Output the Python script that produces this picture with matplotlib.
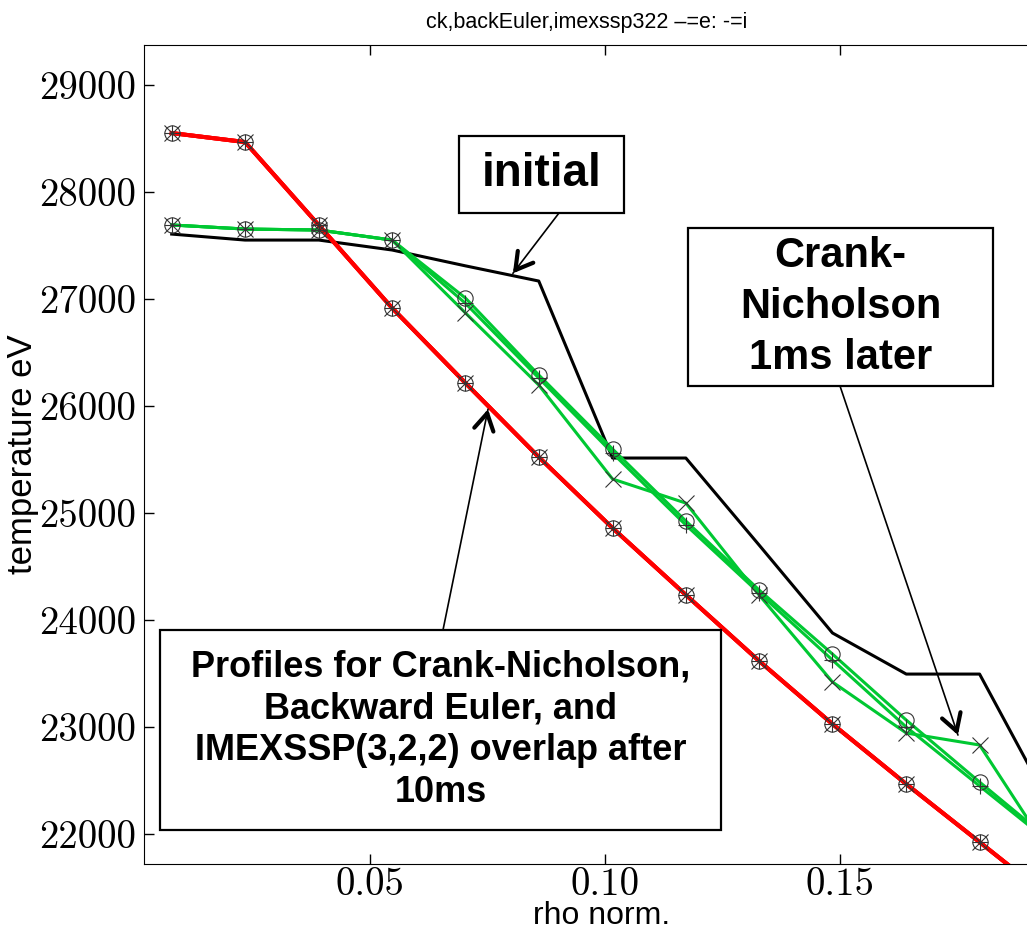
import numpy as np
import matplotlib
matplotlib.use('Agg')
import matplotlib.pyplot as plt
from matplotlib.patches import Rectangle

# radial grid (cell centres) and temperature profiles in eV
rho = [0.0078, 0.0234, 0.0391, 0.0547, 0.0703, 0.0859, 0.1016,
       0.1172, 0.1328, 0.1484, 0.1641, 0.1797, 0.1953]

t_initial = [27607, 27551, 27551, 27458, 27310, 27168, 25514,
             25514, 24700, 23879, 23495, 23495, 22224]

# 1ms after start
t_cn_1ms = [27692, 27654, 27645, 27551, 26870, 26196, 25318,
            25093, 24233, 23421, 22944, 22832, 21780]
t_be_1ms = [27692, 27654, 27645, 27551, 27009, 26290, 25598,
            24925, 24280, 23682, 23065, 22486, 21920]
t_imex_1ms = [27692, 27654, 27645, 27551, 26960, 26262, 25560,
              24888, 24252, 23626, 23000, 22449, 21900]

# 10ms: all three schemes land on the same profile
t_10ms = [28551, 28467, 27690, 26916, 26215, 25523, 24860,
          24235, 23617, 23028, 22467, 21925, 21380]

xticks = [0.05, 0.10, 0.15]
xtick_labels = ['0.05', '0.10', '0.15']
yticks = [22000, 23000, 24000, 25000, 26000, 27000, 28000, 29000]
ytick_labels = ['22000', '23000', '24000', '25000', '26000', '27000', '28000', '29000']

SANS = ['Liberation Sans', 'DejaVu Sans']
GREEN = '#00c832'
RED = '#ff0000'

W, H = 1027, 938
fig = plt.figure(figsize=(W / 100, H / 100), dpi=100)
ax = fig.add_axes([144 / W, 1 - 864 / H, (1030 - 144) / W, (864 - 45) / H])

ax.plot(rho, t_initial, color='k', lw=2.2, zorder=2)
for t in (t_cn_1ms, t_be_1ms, t_imex_1ms):
    ax.plot(rho, t, color=GREEN, lw=2.2, zorder=3)
for _ in range(3):
    ax.plot(rho, t_10ms, color=RED, lw=2.9, zorder=3)

# markers: x = Crank-Nicholson, o = backward Euler, + = IMEXSSP(3,2,2)
mk = dict(ls='none', ms=11, mew=0.8, mec='#333333', mfc='none', zorder=4)
for t_cn, t_be, t_imex in ((t_cn_1ms, t_be_1ms, t_imex_1ms), (t_10ms, t_10ms, t_10ms)):
    ax.plot(rho, t_cn, marker='x', **mk)
    ax.plot(rho, t_be, marker='o', **mk)
    ax.plot(rho, t_imex, marker='+', **mk)

ax.set_xlim(0.0019, 0.19043)
ax.set_ylim(21720, 29374)
ax.set_xticks(xticks, labels=xtick_labels, fontfamily='cmr10', fontsize=28)
ax.set_yticks(yticks, labels=ytick_labels, fontfamily='cmr10', fontsize=28)
ax.tick_params(direction='in', top=True, right=False, length=7, width=1)
ax.tick_params(axis='x', pad=2)
ax.tick_params(axis='y', pad=6)

ax.set_title('ck,backEuler,imexssp322 \u2013=e: -=i', fontsize=15.5,
             family=SANS, pad=12)
ax.set_xlabel('rho norm.', fontsize=23, family=SANS, va='top')
ax.xaxis.set_label_coords(0.516, -0.045)
ax.set_ylabel('temperature eV', fontsize=25, family=SANS)
ax.yaxis.set_label_coords(-0.118, 0.5)


def add_callout(text, box, size, spacing, tail, tip):
    x0, y0, x1, y1 = box
    fig.add_artist(Rectangle((x0 / W, 1 - y1 / H), (x1 - x0) / W, (y1 - y0) / H,
                             transform=fig.transFigure, fc='white', ec='k', lw=1.6))
    fig.text((x0 + x1) / 2 / W, 1 - (y0 + y1) / 2 / H, text, ha='center', va='center',
             fontsize=size, fontweight='bold', family=SANS, linespacing=spacing)
    # thin shaft from box edge to the curve
    ax.annotate('', xy=tip, xycoords='data', xytext=(tail[0], H - tail[1]),
                textcoords='figure pixels', annotation_clip=False,
                arrowprops=dict(arrowstyle='-', lw=1.2, color='k', shrinkA=0, shrinkB=0))
    # heavy open head
    tip_px = ax.transData.transform(tip)
    d = tip_px - np.array([tail[0], H - tail[1]])
    back = tip_px - 6 * d / np.hypot(*d)
    ax.annotate('', xy=tip, xycoords='data', xytext=back, textcoords='figure pixels',
                annotation_clip=False,
                arrowprops=dict(arrowstyle='->,head_length=0.6,head_width=0.35', lw=3,
                                mutation_scale=20, color='k', shrinkA=0, shrinkB=0))


add_callout('initial', (459, 136, 624, 213), 33, 1.1, (559, 213), (0.0804, 27240))
add_callout('Crank-\nNicholson\n1ms later', (688, 228, 993, 386), 30, 1.36,
            (840, 386), (0.1751, 22925))
add_callout('Profiles for Crank-Nicholson,\nBackward Euler, and\n'
            'IMEXSSP(3,2,2) overlap after\n10ms', (160, 630, 721, 830), 26, 1.25,
            (443, 630), (0.0751, 25970))

fig.savefig('out.png', dpi=100)
